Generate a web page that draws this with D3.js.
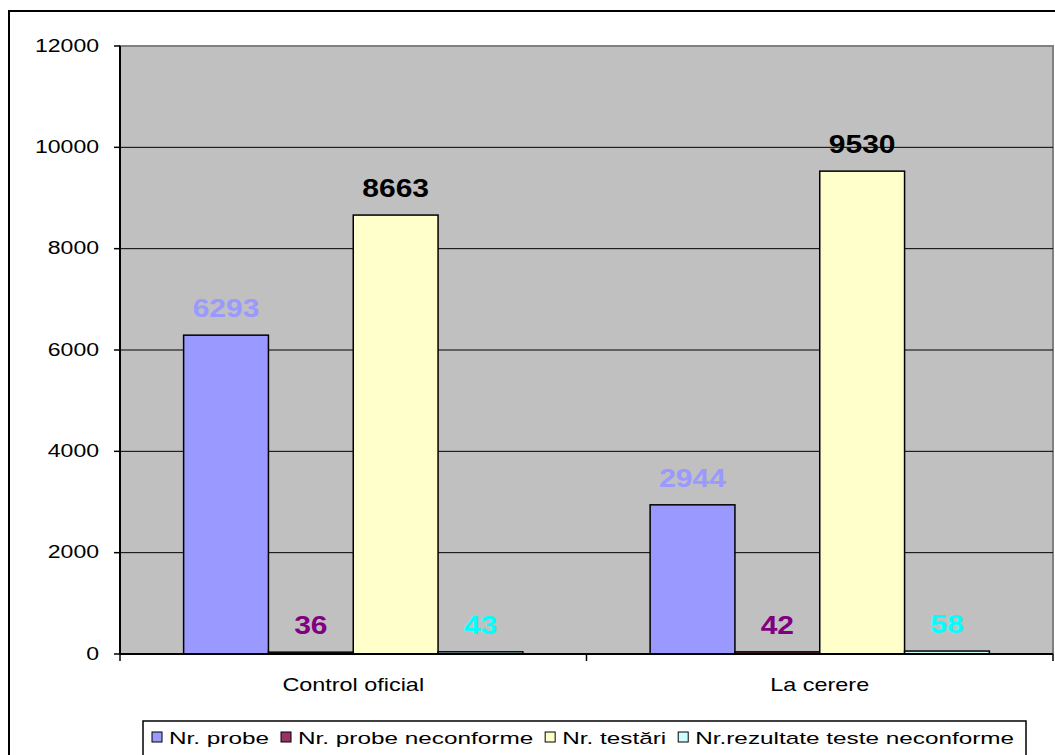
<!DOCTYPE html>
<html>
<head>
<meta charset="utf-8">
<script src="https://cdn.jsdelivr.net/npm/d3@7"></script>
<style>
  html, body { margin: 0; padding: 0; background: #fff; }
  svg { display: block; }
  text { font-family: "Liberation Sans", Arial, sans-serif; }
</style>
</head>
<body>
<svg id="chart" width="1055" height="755"></svg>
<script>
const categories = ["Control oficial", "La cerere"];
const seriesNames = ["Nr. probe", "Nr. probe neconforme", "Nr. testări", "Nr.rezultate teste neconforme"];
const nrProbe = [6293, 2944];
const nrProbeNeconforme = [36, 42];
const nrTestari = [8663, 9530];
const nrRezultateNeconforme = [43, 58];
const yTicks = [0, 2000, 4000, 6000, 8000, 10000, 12000];

const seriesValues = [nrProbe, nrProbeNeconforme, nrTestari, nrRezultateNeconforme];
const fills = ["#9999FF", "#993366", "#FFFFCC", "#CCFFFF"];
const labelColors = ["#9999FF", "#800080", "#000000", "#00FFFF"];

const svg = d3.select("#chart");
const plot = { left: 120, top: 46, right: 1053, bottom: 654 };

// outer frame
svg.append("rect").attr("x", 9).attr("y", 11).attr("width", 1070).attr("height", 770)
  .attr("fill", "#fff").attr("stroke", "#000").attr("stroke-width", 2);

const y = d3.scaleLinear().domain([0, 12000]).range([plot.bottom, plot.top]);
const x0 = d3.scaleBand().domain(categories).range([plot.left, plot.right]).paddingInner(0).paddingOuter(0);
// gap width 150% of a bar: group = 4 bars + 1.5 bar
const gw = x0.bandwidth();
const barW = gw / 5.5;
const x1 = d3.scaleBand().domain(d3.range(4)).range([0.75 * barW, gw - 0.75 * barW]).padding(0);

// plot area
svg.append("rect").attr("x", plot.left).attr("y", plot.top)
  .attr("width", plot.right - plot.left).attr("height", plot.bottom - plot.top)
  .attr("fill", "#C0C0C0").attr("stroke", "#808080").attr("stroke-width", 2);

// gridlines
svg.append("g").selectAll("line").data(yTicks.filter(d => d > 0 && d < 12000)).join("line")
  .attr("x1", plot.left).attr("x2", plot.right)
  .attr("y1", d => y(d)).attr("y2", d => y(d))
  .attr("stroke", "#000").attr("stroke-width", 1);

// bars
const groups = svg.append("g").selectAll("g").data(categories).join("g")
  .attr("transform", d => `translate(${x0(d)},0)`);
groups.each(function(cat, ci) {
  const g = d3.select(this);
  seriesValues.forEach((vals, si) => {
    const v = vals[ci];
    g.append("rect")
      .attr("x", x1(si)).attr("width", x1.bandwidth())
      .attr("y", y(v)).attr("height", y(0) - y(v))
      .attr("fill", fills[si]).attr("stroke", "#000").attr("stroke-width", 1.5);
    const cx = x1(si) + x1.bandwidth() / 2;
    g.append("text")
      .attr("transform", `translate(${cx},${y(v) - 18}) scale(1.2,1)`)
      .attr("text-anchor", "middle")
      .attr("font-size", 25).attr("font-weight", "bold")
      .attr("fill", labelColors[si])
      .text(v);
  });
});

// y axis
const yAxis = svg.append("g");
yAxis.append("line").attr("x1", plot.left).attr("x2", plot.left)
  .attr("y1", plot.top).attr("y2", plot.bottom).attr("stroke", "#000").attr("stroke-width", 2);
yAxis.selectAll("line.tick").data(yTicks).join("line").attr("class", "tick")
  .attr("x1", plot.left - 6).attr("x2", plot.left)
  .attr("y1", d => y(d)).attr("y2", d => y(d)).attr("stroke", "#000").attr("stroke-width", 1.5);
yAxis.selectAll("text").data(yTicks).join("text")
  .attr("transform", d => `translate(${plot.left - 21},${y(d) + 5.5}) scale(1.28,1)`)
  .attr("text-anchor", "end").attr("font-size", 18).attr("fill", "#000")
  .text(d => d);

// x axis
const xAxis = svg.append("g");
xAxis.append("line").attr("x1", plot.left).attr("x2", plot.right)
  .attr("y1", plot.bottom).attr("y2", plot.bottom).attr("stroke", "#000").attr("stroke-width", 2);
const xTickPos = categories.map(c => x0(c)).concat([plot.right]);
xAxis.selectAll("line.tick").data(xTickPos).join("line").attr("class", "tick")
  .attr("x1", d => d).attr("x2", d => d)
  .attr("y1", plot.bottom).attr("y2", plot.bottom + 7).attr("stroke", "#000").attr("stroke-width", 1.5);
xAxis.selectAll("text").data(categories).join("text")
  .attr("transform", d => `translate(${x0(d) + gw / 2},${691}) scale(1.3,1)`)
  .attr("text-anchor", "middle").attr("font-size", 18).attr("fill", "#000")
  .text(d => d);

// legend
const legend = svg.append("g");
legend.append("rect").attr("x", 143).attr("y", 721).attr("width", 883).attr("height", 60)
  .attr("fill", "#fff").attr("stroke", "#000").attr("stroke-width", 1.5);
const sx = 1.52;
let lx = 152;
seriesNames.forEach((name, i) => {
  legend.append("rect").attr("x", lx).attr("y", 732).attr("width", 10).attr("height", 10)
    .attr("fill", fills[i]).attr("stroke", "#000").attr("stroke-width", 1);
  lx += 17;
  const t = legend.append("text")
    .attr("transform", `translate(${lx},744) scale(${sx},1)`)
    .attr("font-size", 16).attr("fill", "#000").text(name);
  const w = t.node().getComputedTextLength() * sx;
  lx += w + 12;
});
</script>
</body>
</html>
